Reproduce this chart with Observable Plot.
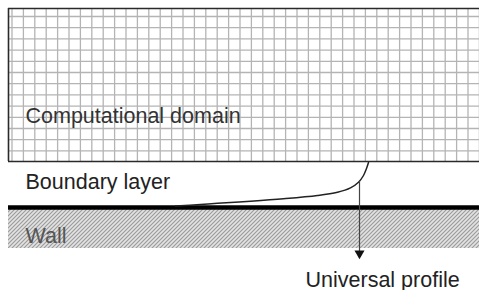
<!DOCTYPE html>
<html>
<head>
<meta charset="utf-8">
<script src="https://cdn.jsdelivr.net/npm/d3@7"></script>
<script src="https://cdn.jsdelivr.net/npm/@observablehq/plot@0.6"></script>
<style>
  html, body { margin: 0; padding: 0; background: #fff; }
  #chart svg { display: block; }
</style>
</head>
<body>
<div id="chart"></div>
<script>
// Diagram coordinate space (x to the right, y downward)
const domainBox = {x1: 8, x2: 479, top: 8, bottom: 161};
const gridCols = d3.range(11.5, 479, 11.4);
const gridRows = d3.range(16, 155, 11.2);
const wallTop = 207;
const wallBottom = 248;

// Near-wall velocity profile (u position, height position)
const profileU = [175, 200, 217, 250, 283, 317, 337, 350, 358, 363, 366, 368];
const profileY = [205.5, 204, 202.7, 200.7, 198.3, 195, 191.7, 187.3, 181.7, 175, 168, 162];
const profile = profileU.map((u, i) => ({u, y: profileY[i]}));

const arrow = {x: 359, y1: 181, y2: 252, tip: 257};

const labels = [
  {text: "Computational domain", x: 25, y: 122, fill: "#333"},
  {text: "Boundary layer", x: 25, y: 188, fill: "#222"},
  {text: "Wall", x: 25, y: 242, fill: "#555"},
  {text: "Universal profile", x: 305, y: 286, fill: "#222"}
];

const plot = Plot.plot({
  width: 479,
  height: 290,
  margin: 0,
  x: {type: "linear", domain: [0, 479], range: [0, 479], axis: null},
  y: {type: "linear", domain: [0, 290], range: [0, 290], axis: null},
  style: {fontFamily: "'Liberation Sans', Arial, sans-serif", background: "#fff"},
  marks: [
    // hatched wall
    Plot.rect([{x1: domainBox.x1, x2: 479, y1: wallTop, y2: wallBottom}], {
      x1: "x1", x2: "x2", y1: "y1", y2: "y2", fill: "url(#hatch)"
    }),
    // grid
    Plot.ruleX(gridCols, {x: d => d, y1: domainBox.top, y2: domainBox.bottom, stroke: "#b4b4b4", strokeWidth: 1.3}),
    Plot.ruleY(gridRows, {y: d => d, x1: domainBox.x1, x2: domainBox.x2, stroke: "#b4b4b4", strokeWidth: 1.3}),
    // domain borders
    Plot.ruleY([domainBox.top, domainBox.bottom], {y: d => d, x1: domainBox.x1, x2: domainBox.x2, stroke: "#2a2a2a", strokeWidth: 1.6}),
    Plot.ruleX([domainBox.x1], {x: d => d, y1: domainBox.top, y2: domainBox.bottom, stroke: "#2a2a2a", strokeWidth: 1.6}),
    // wall line
    Plot.ruleY([wallTop], {y: d => d, x1: domainBox.x1, x2: 479, stroke: "#000", strokeWidth: 4.5}),
    // profile curve
    Plot.line(profile, {x: "u", y: "y", curve: "catmull-rom", stroke: "#222", strokeWidth: 1.5}),
    // arrow
    Plot.ruleX([arrow], {x: "x", y1: "y1", y2: "y2", stroke: "#444", strokeWidth: 1.2}),
    Plot.dot([arrow], {x: "x", y: d => d.tip - 4, symbol: "triangle2", rotate: 180, r: 4.8, fill: "#111", stroke: "none"}),
    // labels
    Plot.text(labels, {x: "x", y: "y", text: "text", fill: "fill", textAnchor: "start", lineAnchor: "bottom", fontSize: 21.5})
  ]
});

const svg = plot.tagName.toLowerCase() === "svg" ? plot : plot.querySelector("svg");
d3.select(svg).insert("defs", ":first-child").html(
  `<pattern id="hatch" patternUnits="userSpaceOnUse" width="4" height="4">
     <rect width="4" height="4" fill="#e2e2e2"/>
     <path d="M-1,1 L1,-1 M0,4 L4,0 M3,5 L5,3" stroke="#9a9a9a" stroke-width="1.1"/>
   </pattern>`
);
document.getElementById("chart").appendChild(plot);
</script>
</body>
</html>
